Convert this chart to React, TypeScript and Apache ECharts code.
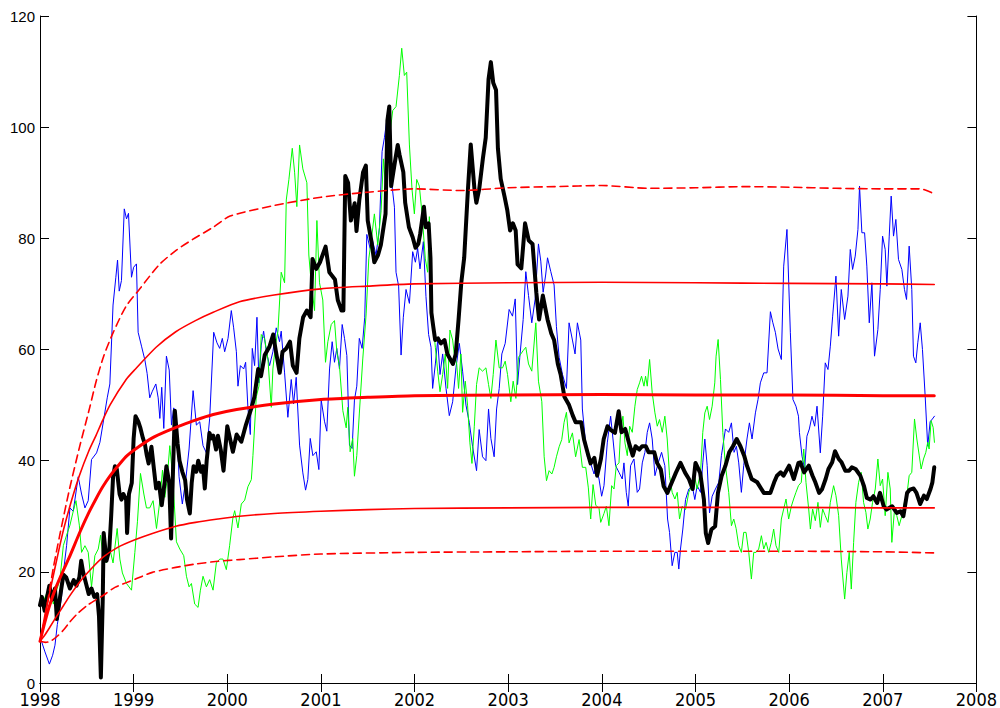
import React, { useEffect, useRef } from "react";
import * as echarts from "echarts";

// x ticks / y ticks
const xTicks = [1998, 1999, 2000, 2001, 2002, 2003, 2004, 2005, 2006, 2007, 2008];
const yTicks = [0, 20, 40, 60, 80, 100, 120];

// Black (thick) series [year, value]
const blackSeries: [number, number][] = [
  [1998.0, 14], [1998.02, 15.5], [1998.05, 13], [1998.07, 15], [1998.1, 17.5], [1998.13, 15], [1998.16, 17], [1998.18, 11.5],
  [1998.21, 15], [1998.25, 19.5], [1998.28, 19], [1998.32, 17], [1998.36, 18.5], [1998.39, 17.5], [1998.42, 19], [1998.44, 22],
  [1998.46, 20], [1998.49, 18], [1998.52, 16], [1998.55, 17], [1998.58, 15.5], [1998.61, 16], [1998.63, 12], [1998.65, 1],
  [1998.67, 15], [1998.68, 27], [1998.71, 22], [1998.74, 24], [1998.76, 30], [1998.78, 37], [1998.8, 39], [1998.82, 38.5],
  [1998.85, 34], [1998.87, 33], [1998.89, 34], [1998.92, 33], [1998.93, 27], [1998.95, 34], [1998.98, 36], [1999.0, 44],
  [1999.02, 48], [1999.05, 47], [1999.07, 46], [1999.1, 44], [1999.12, 43], [1999.14, 41], [1999.16, 39.5], [1999.19, 42.5],
  [1999.22, 38], [1999.24, 35], [1999.27, 36], [1999.3, 32], [1999.33, 36], [1999.35, 39], [1999.38, 36], [1999.4, 26],
  [1999.42, 38], [1999.44, 49], [1999.47, 43], [1999.49, 40], [1999.52, 38], [1999.55, 36.5], [1999.57, 33], [1999.6, 30.5],
  [1999.62, 36], [1999.64, 39], [1999.67, 38], [1999.69, 40], [1999.72, 38], [1999.74, 39], [1999.76, 35], [1999.78, 40],
  [1999.81, 45], [1999.83, 44], [1999.85, 44.5], [1999.88, 42], [1999.9, 44.5], [1999.93, 42], [1999.96, 38.2], [2000.0, 46.2],
  [2000.06, 41.6], [2000.1, 44.7], [2000.15, 43.4], [2000.2, 46.5], [2000.26, 49.6], [2000.29, 51.5], [2000.33, 56.5], [2000.36, 55.2],
  [2000.4, 59], [2000.45, 60.5], [2000.49, 62.7], [2000.52, 59.6], [2000.56, 55.8], [2000.59, 59.6], [2000.63, 60.2], [2000.67, 61.4],
  [2000.7, 57.1], [2000.74, 55.8], [2000.77, 62], [2000.81, 65.8], [2000.85, 67], [2000.89, 65.8], [2000.91, 76.3], [2000.95, 74.5],
  [2000.99, 75.7], [2001.05, 78.5], [2001.09, 73.9], [2001.15, 72.6], [2001.18, 68.9], [2001.22, 67], [2001.24, 67], [2001.26, 91.2],
  [2001.29, 90], [2001.32, 83.2], [2001.36, 86.3], [2001.38, 81.3], [2001.41, 86.9], [2001.45, 91.9], [2001.48, 93.1], [2001.5, 83.2],
  [2001.54, 79.4], [2001.57, 75.7], [2001.61, 77], [2001.64, 78.8], [2001.69, 84.4], [2001.71, 101.2], [2001.73, 103.7], [2001.75, 89.4],
  [2001.79, 93.7], [2001.82, 96.8], [2001.84, 95], [2001.88, 91.9], [2001.9, 86.4], [2001.94, 82], [2001.98, 80.2], [2002.01, 78.3],
  [2002.04, 79], [2002.06, 80.8], [2002.1, 85.7], [2002.12, 82], [2002.15, 82.7], [2002.17, 76.5], [2002.18, 66.6], [2002.2, 64.1],
  [2002.22, 61.7], [2002.25, 62], [2002.28, 61.1], [2002.32, 61.7], [2002.35, 59.2], [2002.41, 57.4], [2002.44, 59.2], [2002.47, 65.4],
  [2002.5, 72.2], [2002.53, 76.5], [2002.57, 88.8], [2002.6, 96.9], [2002.64, 88.8], [2002.66, 86.4], [2002.69, 88.8], [2002.73, 94.4],
  [2002.76, 98.1], [2002.79, 108.6], [2002.815, 111.7], [2002.84, 108], [2002.87, 106.7], [2002.89, 96.2], [2002.92, 90.7], [2002.96, 87.6],
  [2002.99, 85.1], [2003.02, 81.4], [2003.05, 82.7], [2003.08, 81.4], [2003.1, 75.3], [2003.14, 74.6], [2003.18, 82.7], [2003.22, 79.6],
  [2003.26, 79], [2003.3, 70.3], [2003.33, 65.4], [2003.37, 69.7], [2003.42, 65.4], [2003.46, 62.9], [2003.49, 61.7], [2003.53, 57.4],
  [2003.56, 55.5], [2003.6, 51.5], [2003.65, 50], [2003.69, 48.1], [2003.72, 46.9], [2003.78, 46.9], [2003.81, 43.8], [2003.85, 41.3],
  [2003.88, 39.5], [2003.92, 40.5], [2003.95, 37.3], [2003.99, 40.3], [2004.02, 43.9], [2004.06, 46.2], [2004.09, 45.6], [2004.14, 45],
  [2004.18, 48.9], [2004.21, 45.1], [2004.25, 45.7], [2004.29, 43.2], [2004.33, 40.9], [2004.36, 42.6], [2004.4, 42], [2004.43, 42.6],
  [2004.47, 42.6], [2004.5, 41.5], [2004.56, 41.5], [2004.59, 39.6], [2004.63, 38.4], [2004.66, 35.4], [2004.7, 34.2], [2004.73, 35.4],
  [2004.79, 37.8], [2004.84, 39.6], [2004.89, 37.8], [2004.93, 36.7], [2004.97, 34.9], [2005.0, 39.6], [2005.05, 37.8], [2005.09, 33],
  [2005.11, 27], [2005.135, 25.2], [2005.17, 27.6], [2005.21, 28.2], [2005.24, 34.2], [2005.28, 37.3], [2005.32, 39.1], [2005.36, 41.5],
  [2005.4, 42.6], [2005.44, 43.9], [2005.48, 42.6], [2005.52, 40.9], [2005.55, 39.1], [2005.6, 36.7], [2005.66, 36.1], [2005.73, 34.2],
  [2005.8, 34.2], [2005.84, 36.1], [2005.87, 37.3], [2005.91, 37.9], [2005.94, 37.3], [2006.0, 39.1], [2006.05, 36.7], [2006.1, 39.6],
  [2006.12, 39.7], [2006.16, 37.9], [2006.21, 39.1], [2006.25, 37.3], [2006.28, 36.1], [2006.32, 34.2], [2006.35, 34.8], [2006.39, 36.7],
  [2006.42, 38.5], [2006.46, 39.7], [2006.49, 41.7], [2006.53, 40.3], [2006.56, 39.7], [2006.6, 38.2], [2006.64, 38.2], [2006.67, 38.8],
  [2006.71, 38.5], [2006.76, 37.3], [2006.8, 35.4], [2006.83, 33.3], [2006.87, 33], [2006.9, 33.6], [2006.94, 32.4], [2006.97, 34.2],
  [2007.01, 31.8], [2007.04, 31.2], [2007.1, 31.8], [2007.15, 30.6], [2007.19, 30.9], [2007.22, 30], [2007.26, 34.2], [2007.29, 34.8],
  [2007.33, 35], [2007.36, 34.2], [2007.4, 32.2], [2007.44, 33.7], [2007.47, 33.1], [2007.51, 34.9], [2007.53, 36.1], [2007.55, 38.8],
];

// Blue (thin) series
const blueSeries: [number, number][] = [
  [1998.018, 7.4], [1998.053, 5.6], [1998.1, 3.4], [1998.135, 5.0], [1998.16, 6.8], [1998.185, 10.5], [1998.213, 13.6], [1998.23, 15.5],
  [1998.249, 19.8], [1998.284, 24.7], [1998.32, 31.5], [1998.355, 30.9], [1998.408, 37.1], [1998.444, 34], [1998.48, 31.5], [1998.515, 32.8],
  [1998.55, 40.2], [1998.604, 41.4], [1998.64, 43.3], [1998.682, 47.6], [1998.718, 51.3], [1998.746, 53.8], [1998.78, 68], [1998.81, 73],
  [1998.828, 76.1], [1998.846, 70.5], [1998.87, 72.4], [1998.9, 85.3], [1998.924, 83.5], [1998.945, 84.5], [1998.977, 73], [1999.0, 74.8],
  [1999.03, 75.4], [1999.048, 63.1], [1999.084, 60.6], [1999.12, 58.1], [1999.144, 55.7], [1999.172, 51.3], [1999.2, 52.5], [1999.237, 53.8],
  [1999.262, 51.3], [1999.28, 47.6], [1999.3, 53.2], [1999.322, 45.8], [1999.35, 58.8], [1999.38, 56.3], [1999.404, 46.4], [1999.428, 49.5],
  [1999.457, 47.6], [1999.485, 37.1], [1999.52, 32.2], [1999.556, 36.5], [1999.592, 42.1], [1999.635, 52.6], [1999.67, 46.4], [1999.706, 47],
  [1999.741, 42.7], [1999.777, 41.4], [1999.812, 47.6], [1999.855, 63.1], [1999.89, 61.2], [1999.919, 60.2], [1999.947, 62], [1999.972, 59.6],
  [2000.008, 62], [2000.043, 67], [2000.068, 63.9], [2000.097, 59.6], [2000.114, 53.4], [2000.14, 57.1], [2000.175, 56.5], [2000.196, 57.7],
  [2000.22, 49.6], [2000.246, 44.7], [2000.267, 60.2], [2000.292, 57.1], [2000.317, 65.8], [2000.338, 54], [2000.363, 60.8], [2000.388, 63.3],
  [2000.417, 59.6], [2000.452, 57.1], [2000.487, 59.6], [2000.523, 63.9], [2000.558, 61.4], [2000.576, 63.3], [2000.612, 55.8], [2000.647, 47.8],
  [2000.683, 54.6], [2000.708, 50.2], [2000.736, 55], [2000.772, 42.8], [2000.807, 37.8], [2000.836, 34.7], [2000.86, 36.6], [2000.886, 44],
  [2000.914, 40.9], [2000.95, 41.6], [2000.978, 38.4], [2001.003, 50.9], [2001.038, 47.1], [2001.063, 45.3], [2001.092, 56.5], [2001.12, 61.4],
  [2001.145, 57.7], [2001.17, 60.2], [2001.198, 56.5], [2001.227, 64.5], [2001.252, 62], [2001.277, 58.9], [2001.305, 42.8], [2001.333, 42.2],
  [2001.358, 50.9], [2001.383, 53.4], [2001.41, 62], [2001.44, 60.2], [2001.468, 65.8], [2001.49, 80.7], [2001.525, 78.2], [2001.554, 79.4],
  [2001.589, 77], [2001.625, 81.9], [2001.653, 95.6], [2001.678, 98.1], [2001.703, 101.2], [2001.731, 96.8], [2001.76, 89.4], [2001.785, 85.6],
  [2001.802, 73.9], [2001.83, 71.4], [2001.856, 59], [2001.88, 65.8], [2001.909, 70.8], [2001.945, 68.3], [2001.98, 77.6], [2002.009, 75.7],
  [2002.033, 78.2], [2002.058, 74.5], [2002.094, 79.4], [2002.122, 69.5], [2002.15, 62.7], [2002.176, 60.4], [2002.193, 53], [2002.222, 57.4],
  [2002.247, 61.7], [2002.272, 55.5], [2002.3, 59.2], [2002.336, 53], [2002.371, 48.1], [2002.407, 50.6], [2002.442, 56.7], [2002.478, 61.1],
  [2002.513, 56.1], [2002.549, 50], [2002.584, 46.9], [2002.62, 42.5], [2002.662, 38.2], [2002.69, 45.6], [2002.726, 40.7], [2002.762, 40],
  [2002.79, 49.3], [2002.815, 44], [2002.85, 40.7], [2002.876, 49.3], [2002.904, 53], [2002.932, 59.2], [2002.968, 61.1], [2003.01, 67.2],
  [2003.046, 66], [2003.075, 69.1], [2003.1, 53.7], [2003.124, 58.6], [2003.16, 65.4], [2003.188, 74], [2003.217, 69.7], [2003.252, 64.8],
  [2003.288, 69.1], [2003.323, 79], [2003.348, 75.9], [2003.373, 70.3], [2003.4, 73.4], [2003.42, 76.5], [2003.455, 74], [2003.49, 71.6],
  [2003.515, 64.1], [2003.544, 58.6], [2003.58, 55.5], [2003.622, 53], [2003.65, 64.8], [2003.686, 61.7], [2003.714, 59.2], [2003.739, 64.8],
  [2003.775, 61.7], [2003.792, 49.3], [2003.82, 44.4], [2003.846, 40.7], [2003.881, 39.5], [2003.917, 37.6], [2003.934, 39.1], [2003.97, 36.7],
  [2003.998, 33.6], [2004.023, 35.5], [2004.058, 43.2], [2004.094, 48], [2004.119, 43.9], [2004.147, 39.1], [2004.183, 37.9], [2004.218, 36.7],
  [2004.236, 39.6], [2004.261, 34.3], [2004.282, 31.8], [2004.307, 39.1], [2004.343, 40.3], [2004.378, 34.3], [2004.403, 34.9], [2004.432, 39.6],
  [2004.46, 41.5], [2004.485, 45.1], [2004.51, 46.8], [2004.538, 43.9], [2004.567, 37.3], [2004.602, 39.6], [2004.638, 41.5], [2004.673, 39.1],
  [2004.702, 29.5], [2004.723, 27.1], [2004.751, 21.1], [2004.78, 23.5], [2004.805, 23.5], [2004.822, 20.5], [2004.84, 24.1], [2004.865, 27.7],
  [2004.894, 33], [2004.929, 34.9], [2004.965, 35.5], [2004.993, 33], [2005.018, 35.5], [2005.054, 34.3], [2005.078, 39.6], [2005.1, 43.9],
  [2005.125, 39.1], [2005.15, 30.6], [2005.178, 33.6], [2005.213, 34.9], [2005.249, 36.1], [2005.277, 40.9], [2005.32, 45.7], [2005.355, 45.1],
  [2005.384, 46.8], [2005.412, 41.5], [2005.437, 42.6], [2005.462, 39.6], [2005.49, 34.3], [2005.515, 39.1], [2005.55, 43.9], [2005.576, 46.8],
  [2005.604, 43.9], [2005.64, 48.6], [2005.668, 51], [2005.693, 54], [2005.729, 55.8], [2005.764, 55.8], [2005.8, 66.8], [2005.825, 64.9],
  [2005.853, 63.1], [2005.882, 60.1], [2005.917, 58.2], [2005.942, 75], [2005.977, 81.6], [2006.013, 63.1], [2006.041, 51], [2006.073, 49.8],
  [2006.1, 48], [2006.11, 45.1], [2006.138, 40.8], [2006.166, 38.5], [2006.19, 44.4], [2006.216, 45.7], [2006.244, 48], [2006.273, 46.2],
  [2006.298, 49.8], [2006.333, 41.4], [2006.358, 48], [2006.386, 57.6], [2006.415, 56.4], [2006.44, 60.6], [2006.465, 66], [2006.5, 73.2],
  [2006.529, 62.4], [2006.557, 70.8], [2006.593, 65.4], [2006.628, 69.6], [2006.653, 78], [2006.678, 74.4], [2006.706, 76.8], [2006.735, 81.6],
  [2006.752, 89.4], [2006.777, 81], [2006.806, 81], [2006.83, 75], [2006.856, 64.8], [2006.884, 72], [2006.912, 58.8], [2006.948, 63.6],
  [2006.973, 70.8], [2006.998, 80.4], [2007.026, 78], [2007.044, 71.4], [2007.069, 80.4], [2007.09, 87.6], [2007.115, 80.4], [2007.14, 83.4],
  [2007.168, 76.2], [2007.204, 74.4], [2007.232, 70.8], [2007.254, 69], [2007.282, 78.6], [2007.31, 70.8], [2007.328, 58.8], [2007.353, 57.6],
  [2007.374, 61.2], [2007.4, 64.8], [2007.424, 60], [2007.453, 51.6], [2007.48, 42.6], [2007.506, 47], [2007.53, 47.5], [2007.552, 48],
];

// Green (thin) series
const greenSeries: [number, number][] = [
  [1998.018, 14], [1998.071, 16.1], [1998.107, 17.3], [1998.142, 14.2], [1998.178, 16.7], [1998.213, 18.6], [1998.249, 24.7], [1998.284, 26.6],
  [1998.32, 28.4], [1998.355, 30.9], [1998.384, 32.8], [1998.42, 28.4], [1998.444, 23.5], [1998.48, 24.7], [1998.515, 23.5], [1998.55, 17.3],
  [1998.586, 22.9], [1998.622, 24.1], [1998.647, 26.6], [1998.675, 22.3], [1998.71, 21.6], [1998.746, 24.1], [1998.78, 21.6], [1998.824, 27.8],
  [1998.853, 22.3], [1998.88, 19.8], [1998.924, 17.9], [1998.977, 16.7], [1999.013, 23.5], [1999.041, 29.1], [1999.073, 37.7], [1999.109, 34],
  [1999.137, 31.5], [1999.172, 31.5], [1999.208, 32.8], [1999.244, 27.8], [1999.28, 32.8], [1999.308, 38.3], [1999.333, 33.4], [1999.357, 36.5],
  [1999.386, 42.7], [1999.42, 36.5], [1999.457, 25.4], [1999.493, 24.1], [1999.535, 22.9], [1999.564, 19.2], [1999.592, 17.3], [1999.617, 17.9],
  [1999.652, 14.2], [1999.688, 13.6], [1999.713, 16.7], [1999.741, 19.2], [1999.777, 17.3], [1999.812, 18.6], [1999.848, 16.7], [1999.883, 21.6],
  [1999.92, 22.3], [1999.954, 22.3], [1999.99, 20.4], [2000.025, 24.7], [2000.06, 29.7], [2000.079, 31], [2000.114, 27.9], [2000.15, 32.2],
  [2000.186, 32.9], [2000.22, 35.3], [2000.257, 36.6], [2000.274, 40.9], [2000.31, 51.5], [2000.338, 53.4], [2000.363, 62.7], [2000.398, 62],
  [2000.434, 58.3], [2000.47, 49.6], [2000.487, 56.5], [2000.516, 60.9], [2000.541, 63.3], [2000.576, 73.9], [2000.612, 72], [2000.63, 86.9],
  [2000.658, 90.6], [2000.694, 96.2], [2000.719, 91.9], [2000.743, 85.7], [2000.772, 96.8], [2000.807, 92.5], [2000.85, 90], [2000.871, 77],
  [2000.896, 72], [2000.932, 67], [2000.957, 83.2], [2000.985, 72], [2001.02, 68.9], [2001.049, 57.7], [2001.074, 61.4], [2001.11, 64.5],
  [2001.145, 65.2], [2001.17, 59.6], [2001.198, 57.1], [2001.234, 49], [2001.27, 45.9], [2001.287, 49.6], [2001.312, 41.6], [2001.34, 44],
  [2001.358, 37.2], [2001.383, 40.9], [2001.41, 48.4], [2001.447, 58.3], [2001.483, 66.4], [2001.511, 76.3], [2001.536, 79.4], [2001.571, 84.4],
  [2001.607, 78.8], [2001.643, 85], [2001.667, 94.3], [2001.696, 88.1], [2001.731, 98.1], [2001.767, 103], [2001.802, 103.7], [2001.838, 109.3],
  [2001.863, 114.2], [2001.891, 109.3], [2001.916, 109.9], [2001.945, 96.8], [2001.973, 88.8], [2001.998, 84.4], [2002.023, 90.6], [2002.051, 89.4],
  [2002.08, 84.4], [2002.115, 76.3], [2002.14, 73.9], [2002.158, 83.9], [2002.176, 71.6], [2002.193, 65.4], [2002.222, 60.4], [2002.247, 56.1],
  [2002.272, 52.4], [2002.3, 55.5], [2002.328, 59.2], [2002.353, 53], [2002.378, 63.5], [2002.407, 61.7], [2002.424, 59.2], [2002.45, 57.4],
  [2002.47, 53], [2002.495, 59.2], [2002.513, 48.7], [2002.542, 54.3], [2002.566, 50], [2002.591, 43.2], [2002.613, 39.5], [2002.638, 46.2],
  [2002.662, 53.7], [2002.69, 56.7], [2002.726, 56.1], [2002.762, 56.7], [2002.79, 53.7], [2002.815, 51.2], [2002.84, 55.5], [2002.869, 61.7],
  [2002.904, 56.7], [2002.94, 56.7], [2002.968, 57.9], [2002.993, 55.5], [2003.028, 50.6], [2003.053, 54.3], [2003.082, 51.2], [2003.11, 58.6],
  [2003.135, 59.2], [2003.16, 59.8], [2003.188, 60.4], [2003.217, 57.4], [2003.252, 56.1], [2003.295, 64.8], [2003.323, 54.3], [2003.359, 50.6],
  [2003.384, 40.7], [2003.409, 36.4], [2003.437, 38.2], [2003.466, 37.6], [2003.49, 38.8], [2003.515, 40.7], [2003.544, 42.5], [2003.572, 43.8],
  [2003.597, 46.9], [2003.622, 48.7], [2003.65, 43.2], [2003.686, 45], [2003.72, 40.7], [2003.757, 43.8], [2003.792, 38.8], [2003.828, 38.8],
  [2003.856, 35.1], [2003.881, 29.5], [2003.906, 35.7], [2003.935, 32], [2003.97, 31.4], [2003.988, 28.9], [2004.023, 30.5], [2004.048, 31.8],
  [2004.076, 28.3], [2004.105, 35.5], [2004.13, 34.9], [2004.154, 39.1], [2004.183, 39.6], [2004.2, 45.1], [2004.225, 48], [2004.247, 43.2],
  [2004.272, 40.9], [2004.297, 46.2], [2004.325, 45.1], [2004.353, 49.8], [2004.378, 52.8], [2004.403, 54], [2004.424, 55.2], [2004.45, 53.4],
  [2004.467, 55.2], [2004.485, 53.4], [2004.51, 58.2], [2004.538, 52.2], [2004.567, 48.6], [2004.592, 46.2], [2004.616, 47.4], [2004.645, 45.1],
  [2004.673, 48], [2004.698, 43.9], [2004.723, 37.3], [2004.751, 34.3], [2004.78, 33.1], [2004.805, 34.3], [2004.83, 29.5], [2004.858, 31.8],
  [2004.894, 31.2], [2004.929, 34.3], [2004.958, 35.5], [2004.982, 37.9], [2005.018, 34.9], [2005.054, 37.9], [2005.078, 45.1], [2005.1, 48.6],
  [2005.125, 49.8], [2005.15, 47.4], [2005.178, 49.8], [2005.206, 54], [2005.22, 58.8], [2005.242, 61.8], [2005.267, 54.6], [2005.292, 45.1],
  [2005.32, 39.1], [2005.355, 34.3], [2005.384, 28.3], [2005.409, 29.5], [2005.434, 27.8], [2005.462, 24.7], [2005.49, 23.5], [2005.515, 27.1],
  [2005.54, 27.1], [2005.569, 23.5], [2005.597, 18.7], [2005.622, 23.5], [2005.647, 23.5], [2005.675, 24.1], [2005.704, 26.5], [2005.729, 24.1],
  [2005.754, 25.3], [2005.782, 23.5], [2005.81, 25.3], [2005.835, 27.7], [2005.86, 24.7], [2005.889, 23.5], [2005.917, 29.5], [2005.942, 31.3],
  [2005.967, 33.1], [2005.995, 29.5], [2006.024, 31.8], [2006.048, 33.1], [2006.073, 34.3], [2006.1, 35.5], [2006.13, 36.1], [2006.156, 42.1],
  [2006.18, 36.1], [2006.209, 31.3], [2006.227, 27.7], [2006.251, 31.3], [2006.28, 29.2], [2006.308, 32.5], [2006.333, 28], [2006.358, 31.3],
  [2006.386, 30.1], [2006.415, 28.9], [2006.44, 32.5], [2006.475, 35.5], [2006.5, 33.7], [2006.529, 30.1], [2006.557, 22.3], [2006.593, 15.1],
  [2006.617, 19.9], [2006.642, 23.5], [2006.664, 16.9], [2006.689, 25.3], [2006.713, 32.5], [2006.742, 36.1], [2006.77, 37.9], [2006.795, 32.5],
  [2006.82, 30.7], [2006.841, 27.7], [2006.866, 29.5], [2006.891, 32.5], [2006.92, 34.9], [2006.948, 40.3], [2006.973, 35.5], [2006.998, 36.7],
  [2007.026, 30.1], [2007.055, 37.9], [2007.08, 34.9], [2007.097, 25.3], [2007.126, 31.3], [2007.15, 30.1], [2007.175, 28.3], [2007.204, 30.1],
  [2007.232, 32.5], [2007.257, 33.7], [2007.282, 37.3], [2007.31, 37.9], [2007.339, 47.5], [2007.364, 43.9], [2007.389, 41], [2007.41, 38.5],
  [2007.435, 40.3], [2007.46, 41.5], [2007.48, 43.3], [2007.495, 42.1], [2007.516, 47.2], [2007.538, 46], [2007.552, 43.3],
];

// Red quantile curves
const medianCurve: [number, number][] = [
  [1998.0, 7.5], [1998.05, 10.8], [1998.1, 13.8], [1998.17, 17.2], [1998.25, 20.3], [1998.31, 22.5], [1998.43, 27.3], [1998.52, 30.6],
  [1998.6, 33.2], [1998.67, 35.3], [1998.75, 37.3], [1998.85, 39.4], [1998.93, 40.9], [1999.02, 42.1], [1999.2, 44.1], [1999.38, 45.5],
  [1999.5, 46.3], [1999.66, 47.3], [1999.85, 48.3], [2000.1, 49.2], [2000.5, 50.2], [2001.0, 51.0], [2001.5, 51.4], [2002.0, 51.7],
  [2003.0, 51.8], [2004.0, 51.9], [2005.0, 51.8], [2006.0, 51.8], [2007.0, 51.7], [2007.55, 51.7],
];
const upperCurve: [number, number][] = [
  [1998.0, 7.5], [1998.05, 12], [1998.1, 16], [1998.17, 21.5], [1998.25, 27.5], [1998.34, 33], [1998.42, 37.3], [1998.52, 41.7],
  [1998.6, 44.6], [1998.67, 47.3], [1998.75, 50.1], [1998.92, 54.6], [1999.02, 56.5], [1999.24, 60.4], [1999.45, 63.2], [1999.66, 65.2],
  [1999.85, 66.7], [2000.13, 68.6], [2000.5, 69.8], [2001.0, 70.9], [2001.5, 71.4], [2002.0, 71.8], [2003.0, 72.0], [2004.0, 72.1],
  [2005.0, 72.0], [2006.0, 71.9], [2007.0, 71.8], [2007.55, 71.7],
];
const lowerCurve: [number, number][] = [
  [1998.0, 7.5], [1998.05, 8.6], [1998.1, 9.9], [1998.17, 11.8], [1998.25, 13.9], [1998.31, 15.5], [1998.43, 18.3], [1998.55, 20.6],
  [1998.67, 22.6], [1998.83, 24.4], [1999.02, 25.8], [1999.2, 26.9], [1999.45, 28.2], [1999.66, 28.9], [1999.9, 29.5], [2000.13, 30.0],
  [2000.5, 30.5], [2001.0, 30.9], [2001.5, 31.2], [2002.0, 31.4], [2003.0, 31.5], [2004.0, 31.6], [2005.0, 31.6], [2006.0, 31.6],
  [2007.0, 31.5], [2007.55, 31.5],
];
const upperDashed: [number, number][] = [
  [1998.0, 7.5], [1998.04, 10.5], [1998.07, 13.5], [1998.14, 20.5], [1998.21, 26.5], [1998.31, 34.5], [1998.42, 42.3], [1998.53, 49.5],
  [1998.6, 54.3], [1998.68, 58.8], [1998.78, 63], [1998.92, 67.8], [1999.06, 70.8], [1999.27, 75.2], [1999.45, 77.8], [1999.63, 79.8],
  [1999.85, 82], [2000.03, 84], [2000.5, 85.9], [2001.0, 87.4], [2001.5, 88.3], [2002.0, 88.9], [2002.5, 88.6], [2003.0, 89.1],
  [2003.5, 89.3], [2004.0, 89.5], [2004.5, 89.0], [2005.0, 89.1], [2005.5, 89.3], [2006.0, 89.2], [2006.5, 89.0], [2007.0, 88.9],
  [2007.4, 88.9], [2007.55, 88.0],
];
const lowerDashed: [number, number][] = [
  [1998.0, 7.5], [1998.06, 7.3], [1998.12, 7.6], [1998.19, 8.5], [1998.26, 9.7], [1998.31, 10.8], [1998.39, 12.3], [1998.5, 13.9],
  [1998.6, 15.0], [1998.67, 15.7], [1998.8, 17.2], [1999.02, 18.7], [1999.2, 19.9], [1999.45, 20.8], [1999.66, 21.4], [1999.9, 21.9],
  [2000.13, 22.2], [2000.5, 22.7], [2001.0, 23.2], [2002.0, 23.5], [2003.0, 23.6], [2004.0, 23.7], [2005.0, 23.7], [2006.0, 23.7],
  [2007.0, 23.6], [2007.55, 23.4],
];

const FONT = "'Liberation Sans', Arial, Helvetica, sans-serif";
const NARROW = "'Liberation Sans Narrow', 'DejaVu Sans Condensed', 'Liberation Sans', sans-serif";

function lineSeries(data: [number, number][], color: string, width: number, z: number, dashed = false, smooth = 0) {
  return {
    type: "line",
    data,
    showSymbol: false,
    symbol: "none",
    silent: true,
    smooth,
    z,
    lineStyle: {
      color,
      width,
      type: dashed ? [8, 5] : "solid",
      join: "round",
      cap: "round",
    },
  };
}

export default function App() {
  const ref = useRef<HTMLDivElement>(null);
  useEffect(() => {
    if (!ref.current) return;
    const chart = echarts.init(ref.current, undefined, { renderer: "svg" });
    const axisLine = { show: true, lineStyle: { color: "#000", width: 1 } };
    const axisTick = { show: true, inside: true, length: 9, lineStyle: { color: "#000", width: 1 } };
    const xMin = xTicks[0];
    const xMax = xTicks[xTicks.length - 1];
    const yMin = yTicks[0];
    const yMax = yTicks[yTicks.length - 1];
    chart.setOption({
      animation: false,
      backgroundColor: "#ffffff",
      grid: { left: 40, right: 22, top: 16, bottom: 24, containLabel: false },
      xAxis: [
        {
          type: "value", min: xMin, max: xMax, interval: 1, position: "bottom",
          axisLine, axisTick, splitLine: { show: false },
          axisLabel: {
            show: true, color: "#000", fontSize: 18, lineHeight: 16, fontFamily: NARROW, margin: 8,
            showMinLabel: true, showMaxLabel: true,
            formatter: (v: number) => String(Math.round(v)),
          },
        },
        {
          type: "value", min: xMin, max: xMax, interval: 1, position: "top",
          axisLine, axisTick, splitLine: { show: false }, axisLabel: { show: false },
        },
      ],
      yAxis: [
        {
          type: "value", min: yMin, max: yMax, interval: 20, position: "left",
          axisLine, axisTick, splitLine: { show: false },
          axisLabel: { show: true, color: "#000", fontSize: 15, lineHeight: 11, fontFamily: FONT, margin: 5 },
        },
        {
          type: "value", min: yMin, max: yMax, interval: 20, position: "right",
          axisLine, axisTick, splitLine: { show: false }, axisLabel: { show: false },
        },
      ],
      series: [
        lineSeries(blueSeries, "#0000ff", 1, 2),
        lineSeries(greenSeries, "#00ff00", 1, 3),
        lineSeries(blackSeries, "#000000", 4, 4),
        lineSeries(upperDashed, "#ff0000", 1.6, 5, true, 0.25),
        lineSeries(lowerDashed, "#ff0000", 1.6, 5, true, 0.25),
        lineSeries(upperCurve, "#ff0000", 1.6, 5, false, 0.25),
        lineSeries(lowerCurve, "#ff0000", 1.6, 5, false, 0.25),
        lineSeries(medianCurve, "#ff0000", 3, 6, false, 0.25),
      ],
    });
    return () => chart.dispose();
  }, []);
  return (
    <div
      ref={ref}
      style={{ position: "fixed", left: 0, top: 0, width: 1000, height: 708, background: "#fff" }}
    />
  );
}
